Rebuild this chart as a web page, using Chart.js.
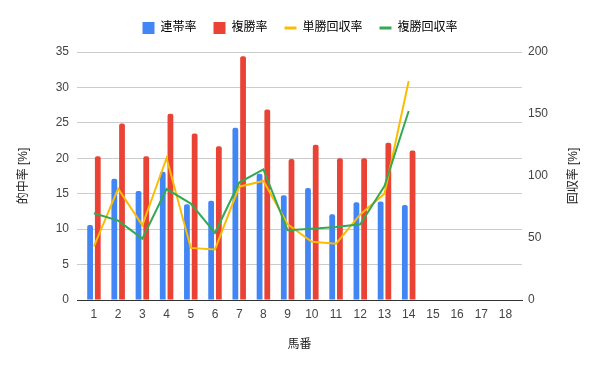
<!DOCTYPE html>
<html>
<head>
<meta charset="utf-8">
<script src="https://cdn.jsdelivr.net/npm/chart.js@4"></script>
<style>
html,body{margin:0;padding:0;background:#fff;}
#wrap{width:600px;height:371px;position:relative;}
</style>
</head>
<body>
<div id="wrap"><canvas id="c" width="600" height="371"></canvas></div>
<script>
const categories = ['1','2','3','4','5','6','7','8','9','10','11','12','13','14','15','16','17','18'];
const rentaiRate = [10.6, 17.1, 15.4, 18.1, 13.5, 14.0, 24.3, 17.8, 14.8, 15.8, 12.1, 13.8, 13.9, 13.4];
const fukushoRate = [20.3, 24.9, 20.3, 26.3, 23.5, 21.7, 34.4, 26.9, 19.9, 21.9, 20.0, 20.0, 22.2, 21.1];
const tanshoReturn = [43.3, 89.8, 60.3, 114.5, 42.0, 40.8, 91.4, 96.0, 61.0, 47.0, 45.4, 69.0, 85.7, 176.6];
const fukushoReturn = [70.0, 64.0, 49.5, 89.5, 77.8, 54.2, 94.7, 105.4, 56.2, 57.5, 58.9, 61.0, 91.9, 152.4];
const xRangeMin = 0.3, xRangeMax = 18.68;
const leftTicksMax = 35, leftStep = 5;
const rightTicksMax = 200, rightStep = 50;
const rightTitle = '回収率 [%]';

const FONT = "'Liberation Sans', Arial, 'Noto Sans CJK JP', sans-serif";

const legendMargin = {
  id: 'legendMargin',
  beforeInit(chart) {
    const orig = chart.legend.fit;
    chart.legend.fit = function () { orig.call(this); this.height += 8; };
  }
};

// Right axis title drawn reading bottom-to-top, like the left one
const rightTitlePlugin = {
  id: 'rightTitle',
  afterDraw(chart) {
    const s = chart.scales.y1;
    const ctx = chart.ctx;
    ctx.save();
    ctx.font = '12px ' + FONT;
    ctx.fillStyle = '#222';
    ctx.textAlign = 'center';
    ctx.textBaseline = 'middle';
    ctx.translate(s.right - 26.5, (s.top + s.bottom) / 2);
    ctx.rotate(-Math.PI / 2);
    ctx.fillText(rightTitle, 0, 0);
    ctx.restore();
  }
};

const barOpts = { categoryPercentage: 0.636, barPercentage: 0.75, borderRadius: {topLeft: 2, topRight: 2}, borderSkipped: 'bottom' };

new Chart(document.getElementById('c'), {
  type: 'bar',
  data: {
    labels: categories,
    datasets: [
      Object.assign({ type: 'bar', label: '連帯率', data: rentaiRate, backgroundColor: '#4285f4', yAxisID: 'y', order: 2 }, barOpts),
      Object.assign({ type: 'bar', label: '複勝率', data: fukushoRate, backgroundColor: '#ea4335', yAxisID: 'y', order: 2 }, barOpts),
      { type: 'line', label: '単勝回収率', data: tanshoReturn, borderColor: '#fbbc04', backgroundColor: '#fbbc04', yAxisID: 'y1', order: 1,
        borderWidth: 2, pointRadius: 0, tension: 0, fill: false },
      { type: 'line', label: '複勝回収率', data: fukushoReturn, borderColor: '#34a853', backgroundColor: '#34a853', yAxisID: 'y1', order: 0,
        borderWidth: 2, pointRadius: 0, tension: 0, fill: false }
    ]
  },
  options: {
    responsive: false,
    animation: false,
    devicePixelRatio: 1,
    layout: { padding: { top: 5, left: 0, right: 0, bottom: 0 } },
    plugins: {
      tooltip: { enabled: false },
      legend: {
        position: 'top',
        align: 'center',
        labels: {
          font: { family: FONT, size: 12 },
          color: '#222',
          usePointStyle: true,
          boxHeight: 12,
          pointStyleWidth: 12,
          padding: 17,
          sort: (a, b) => a.datasetIndex - b.datasetIndex,
          generateLabels(chart) {
            return chart.data.datasets.map((ds, i) => ({
              text: ds.label,
              fillStyle: ds.type === 'line' ? ds.borderColor : ds.backgroundColor,
              strokeStyle: ds.type === 'line' ? ds.borderColor : ds.backgroundColor,
              lineWidth: ds.type === 'line' ? 3 : 0,
              pointStyle: ds.type === 'line' ? 'line' : 'rect',
              hidden: false,
              datasetIndex: i
            }));
          }
        }
      }
    },
    scales: {
      x: {
        type: 'linear',
        min: xRangeMin,
        max: xRangeMax,
        offset: false,
        grid: { display: false, drawTicks: false },
        border: { display: true, color: '#333', width: 1 },
        ticks: { stepSize: 1, font: { family: FONT, size: 12 }, color: '#444', padding: 7, maxRotation: 0, autoSkip: false,
                 callback: (v) => String(v) },
        afterBuildTicks(scale) {
          scale.ticks = categories.map((c) => ({ value: Number(c) }));
        },
        title: { display: true, text: '馬番', font: { family: FONT, size: 12 }, color: '#222', padding: { top: 0, bottom: 19 } },
        afterFit(scale) { scale.height = 71; }
      },
      y: {
        position: 'left',
        min: 0, max: leftTicksMax,
        grid: { color: '#cccccc', drawTicks: false },
        border: { display: false },
        ticks: { stepSize: leftStep, font: { family: FONT, size: 12 }, color: '#444', padding: 8 },
        title: { display: true, text: '的中率 [%]', font: { family: FONT, size: 12 }, color: '#222', padding: { top: 16, bottom: 0 } },
        afterFit(scale) { scale.width = 77; }
      },
      y1: {
        position: 'right',
        min: 0, max: rightTicksMax,
        grid: { display: false, drawOnChartArea: false, drawTicks: false },
        border: { display: false },
        ticks: { stepSize: rightStep, font: { family: FONT, size: 12 }, color: '#444', padding: 6 },
        title: { display: false },
        afterFit(scale) { scale.width = 78; }
      }
    }
  },
  plugins: [legendMargin, rightTitlePlugin]
});
</script>
</body>
</html>
